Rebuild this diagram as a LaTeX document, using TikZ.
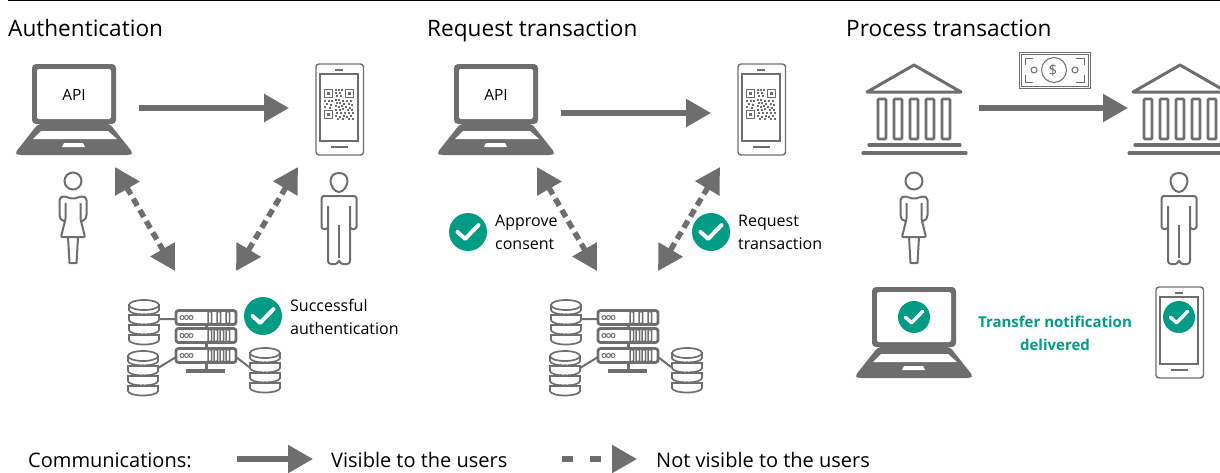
\documentclass[tikz,border=0pt]{standalone}
\usepackage{fontspec}
\setmainfont{Open Sans}
\usepackage{tikz}
\usetikzlibrary{arrows.meta, calc}

\definecolor{icongray}{HTML}{6E6E6E}
\definecolor{checkgreen}{HTML}{009B84}

\tikzset{
    iconbox/.style={minimum width=#1, inner sep=0pt, outer sep=0pt},
    solidarrow/.style={draw=icongray, line width=5.5pt, -{Triangle[length=25pt,width=27pt]}},
    dashedarrow/.style={draw=icongray, line width=5.5pt, dash pattern=on 8pt off 5pt,
        {Triangle[length=25pt,width=27pt]}-{Triangle[length=25pt,width=27pt]}},
    heading/.style={font=\fontsize{22.6}{27}\selectfont, anchor=base west, inner sep=0pt},
    caption/.style={font=\fontsize{16}{23}\selectfont, align=left, anchor=west, inner sep=0pt},
    legendtext/.style={font=\fontsize{20}{24}\selectfont, anchor=base west, inner sep=0pt},
    laptop/.pic={
        \fill[icongray, rounded corners=4pt] (-42,-46) rectangle (42,14);
        \fill[white, rounded corners=2pt] (-37,-41) rectangle (37,9);
        \fill[icongray, rounded corners=3pt] (-36,14) -- (36,14) -- (59,43) -- (56,45) -- (-56,45) -- (-59,43) -- cycle;
        \fill[white] (-33,21) -- (34,21) -- (43,29) -- (-41,29) -- cycle;
        \fill[white] (-10,33) -- (9,33) -- (11,37) -- (-12,37) -- cycle;
    },
    phone/.pic={
        \draw[icongray, line width=1.4pt, rounded corners=3pt] (-24,-46) rectangle (23.5,45);
        \draw[icongray, line width=1.4pt] (-20,-36) rectangle (18,31);
        \draw[icongray, line width=1.4pt] (-5,-40) -- (3,-40) (-9,37) -- (8,37);
    },
    qrcode/.pic={
        \foreach \qx/\qy in {0/0, 21/0, 0/21} {
            \draw[icongray, line width=1.4pt] (\qx+.7,\qy+.7) rectangle (\qx+8.5,\qy+8.5);
            \fill[icongray] (\qx+3,\qy+3) rectangle (\qx+6.2,\qy+6.2);
        }
        \foreach \qx/\qy in {11/0, 14/0, 17/0, 11/3, 15/3, 12/6, 16/6, 0/11, 4/11, 7/11, 11/10,
            14/10, 18/11, 22/11, 26/11, 2/14, 6/15, 12/13, 15/13, 19/14, 24/14, 27/15, 0/17,
            5/18, 11/16, 14/17, 17/16, 21/17, 25/18, 11/20, 15/20, 18/19, 23/20, 27/20,
            12/23, 16/23, 20/23, 24/23, 28/23, 11/26, 15/27, 19/26, 22/27, 26/26, 13/29, 18/29, 24/29, 28/29}
            \fill[icongray] (\qx,\qy) rectangle ++(2.4,2.4);
    },
    woman/.pic={
        \draw[icongray, line width=2pt] (0,0) circle (8.5);
        \draw[icongray, line width=2pt, line join=round, rounded corners=1pt]
            (-7.5,22) -- (-7.5,38) -- (-12,56) -- (12,56) -- (7.5,38) -- (7.5,22);
        \draw[icongray, line width=2pt, line join=round, rounded corners=2pt]
            (-7.5,40) -- (-11,40) -- (-13.5,36) -- (-13.5,17) -- (-10,15) -- (0,18) -- (10,15) -- (13.5,17) -- (13.5,36) -- (11,40) -- (7.5,40);
        \draw[icongray, line width=2pt, line join=round] (-5,56) -- (-3.5,82) -- (3.5,82) -- (5,56);
    },
    man/.pic={
        \draw[icongray, line width=2pt] (0,10) .. controls (-5,10) and (-8.5,3) .. (-8.5,-1)
            .. controls (-8.5,-6) and (-5,-9) .. (0,-9) .. controls (5,-9) and (8.5,-6) .. (8.5,-1)
            .. controls (8.5,3) and (5,10) .. (0,10) -- cycle;
        \draw[icongray, line width=2pt, line join=round, rounded corners=2.5pt]
            (-11,24) -- (-11,47) -- (-17.5,47) -- (-17.5,14) -- (17.5,14) -- (17.5,47) -- (11,47) -- (11,24);
        \draw[icongray, line width=2pt, line join=round, rounded corners=3pt]
            (-11,44) -- (-11,82) -- (-1,82) -- (0,77) -- (1,82) -- (11,82) -- (11,44);
        \draw[icongray, line width=2pt] (0,43) -- (0,76);
    },
    bank/.pic={
        \draw[icongray, line width=3pt, line join=round, line cap=round] (0,-45) -- (-47,-18) -- (47,-18) -- cycle;
        \foreach \colx in {-32,-16,0,16,32}
            \draw[icongray, line width=2.8pt, rounded corners=1pt] (\colx-4,-11) rectangle (\colx+4,29);
        \draw[icongray, line width=3.2pt, line cap=round] (-45,35) -- (46,35) (-51,43) -- (52,43);
    },
    banknote/.pic={
        \draw[icongray, line width=1pt] (-35,-18) rectangle (36,18);
        \draw[icongray, line width=1pt] (-33,-16) rectangle (34,16);
        \draw[icongray, line width=1pt] (-29,-5) -- (-29,-12) -- (-21,-12) (22,-12) -- (30,-12) -- (30,-5)
            (-29,5) -- (-29,12) -- (-21,12) (22,12) -- (30,12) -- (30,5);
        \draw[icongray, line width=1pt] (0,0) circle (12.5) (-20,0) circle (3) (21,0) circle (3);
    },
    database/.pic={
        \foreach \disky in {30,20,10,0} {
            \draw[icongray, fill=white, line width=1.7pt] (-15,\disky) -- (-15,\disky+5)
                arc[start angle=180, end angle=0, x radius=15, y radius=4.5] -- (15,\disky) -- cycle;
        }
        \draw[icongray, fill=white, line width=1.7pt] (0,0) ellipse (15 and 5);
        \foreach \disky in {9,19,29}
            \fill[icongray] (-4,\disky) circle (.8) (0,\disky) circle (.8) (4,\disky) circle (.8);
    },
    serverunit/.pic={
        \draw[icongray, fill=white, line width=2.8pt, rounded corners=2.5pt] (-30,-7) rectangle (30,7);
        \foreach \ringx in {-24,-19.5,-15}
            \draw[icongray, line width=1pt] (\ringx,0) circle (2);
    },
    fourbars/.pic={
        \foreach \barx in {2,8,14,20}
            \draw[icongray, line width=1.5pt, rounded corners=1pt] (\barx,-6) rectangle (\barx+3.5,6);
    },
    threebars/.pic={
        \foreach \barx in {2,11,20}
            \draw[icongray, line width=1.5pt, rounded corners=1pt] (\barx,-6) rectangle (\barx+3.5,6);
    },
    checkbadge/.pic={
        \fill[checkgreen] (0,0) circle (#1);
        \draw[white, line width=#1*.21pt, line cap=round, line join=round]
            (-#1*.55,0) -- (-#1*.15,#1*.36) -- (#1*.55,-#1*.36);
    },
}

\begin{document}
\begin{tikzpicture}[x=1pt, y=-1pt]
    \useasboundingbox (0,0) rectangle (1220,472);
    \draw[black, line width=1.2pt] (8,0) -- (1220,0);

    \node[heading] (TitleAuth)    at (8,36)   {Authentication};
    \node[heading] (TitleRequest) at (427,36) {Request transaction};
    \node[heading] (TitleProcess) at (846,36) {Process transaction};

    % authentication
    \node[iconbox=116pt]  (LaptopAuth)  at (74,110)  {};
    \node[iconbox=48pt]   (PhoneAuth)   at (340,110) {};
    \node[iconbox=152pt]  (ServerAuth)  at (204,345) {};
    \pic at (LaptopAuth) {laptop};
    \pic at (PhoneAuth) {phone};
    \pic at (324,89) {qrcode};
    \pic at (73,181) {woman};
    \pic at (339,182) {man};
    \node[font=\fontsize{15.5}{18}\selectfont] (ApiAuth) at (74,95) {API};

    \coordinate (LaptopAuthSouth) at (115,167);
    \coordinate (ServerAuthWest)  at (175,271);
    \coordinate (PhoneAuthSouth)  at (298,167);
    \coordinate (ServerAuthEast)  at (236,271);
    \path[solidarrow, shorten <=65pt, shorten >=51pt] (LaptopAuth.center |- 0,108) -- (PhoneAuth.center |- 0,108);
    \path[dashedarrow] (LaptopAuthSouth) -- (ServerAuthWest);
    \path[dashedarrow] (PhoneAuthSouth) -- (ServerAuthEast);

    \foreach \sx in {0,422} {
        \begin{scope}[xshift=\sx pt]
            \draw[icongray, line width=2pt] (159,319) -- (176,319) (158,368) -- (176,357) (236,357) -- (249,367);
            \draw[icongray, line width=3pt] (206,322) -- (206,371);
            \draw[icongray, line width=4pt] (186,371) -- (225,371);
            \pic at (144,305) {database};
            \pic at (143,356) {database};
            \pic at (265,353) {database};
            \pic at (206,317.5) {serverunit};
            \pic at (206,317.5) {threebars};
            \pic at (206,335.5) {serverunit};
            \pic at (206,335.5) {fourbars};
            \pic at (206,355.5) {serverunit};
            \pic at (206,355.5) {fourbars};
        \end{scope}
    }

    \pic at (263,316) {checkbadge=19};
    \node[caption] (CaptionAuth) at (290,317) {Successful\\authentication};

    % request
    \node[iconbox=116pt]  (LaptopRequest)  at (496,110) {};
    \node[iconbox=48pt]   (PhoneRequest)   at (762,110) {};
    \node[iconbox=152pt]  (ServerRequest)  at (626,345) {};
    \pic at (LaptopRequest) {laptop};
    \pic at (PhoneRequest) {phone};
    \pic at (746,89) {qrcode};
    \node[font=\fontsize{15.5}{18}\selectfont] (ApiRequest) at (496,95) {API};

    \coordinate (LaptopRequestSouth) at (537,167);
    \coordinate (ServerRequestWest)  at (597,271);
    \coordinate (PhoneRequestSouth)  at (720,167);
    \coordinate (ServerRequestEast)  at (658,271);
    \path[solidarrow, shorten <=65pt, shorten >=51pt] (LaptopRequest.center |- 0,113) -- (PhoneRequest.center |- 0,113);
    \path[dashedarrow] (LaptopRequestSouth) -- (ServerRequestWest);
    \path[dashedarrow] (PhoneRequestSouth) -- (ServerRequestEast);

    \pic at (468,232) {checkbadge=19};
    \node[caption] (CaptionConsent) at (495,232) {Approve\\consent};
    \pic at (711,232) {checkbadge=19};
    \node[caption] (CaptionRequest) at (738,232) {Request\\transaction};

    % process
    \node[iconbox=104pt]  (BankSender)   at (914,110)  {};
    \node[iconbox=104pt]  (BankReceiver) at (1180,110) {};
    \pic at (BankSender) {bank};
    \pic at (BankReceiver) {bank};
    \pic at (1054,70) {banknote};
    \node[font=\fontsize{15}{18}\selectfont, text=icongray] (Dollar) at (1053,70) {\$};
    \pic at (914,181) {woman};
    \pic at (1179,182) {man};
    \path[solidarrow, shorten <=65pt, shorten >=52pt] (BankSender.center |- 0,108) -- (BankReceiver.center |- 0,108);

    \node[iconbox=116pt]  (LaptopDone) at (914,333)  {};
    \node[iconbox=48pt]   (PhoneDone)  at (1180,333) {};
    \pic at (LaptopDone) {laptop};
    \pic at (PhoneDone) {phone};
    \pic at (914,317) {checkbadge=16};
    \pic at (1179,317) {checkbadge=16};
    \node[font=\fontsize{15}{23}\bfseries\selectfont, text=checkgreen, align=center] (CaptionDone) at (1055,333) {Transfer notification\\delivered};

    % legend
    \node[legendtext] (LegendTitle)  at (28,467)  {Communications:};
    \node[legendtext] (LegendSolid)  at (331,467) {Visible to the users};
    \node[legendtext] (LegendDashed) at (656,467) {Not visible to the users};
    \coordinate (SolidStart)  at (237,459);
    \coordinate (DashedStart) at (562,459);
    \path[solidarrow] (SolidStart) -- ++(76,0);
    \path[draw=icongray, line width=5.5pt, dash pattern=on 11pt off 17pt, -{Triangle[length=25pt,width=27pt]}] (DashedStart) -- ++(75,0);
\end{tikzpicture}
\end{document}
